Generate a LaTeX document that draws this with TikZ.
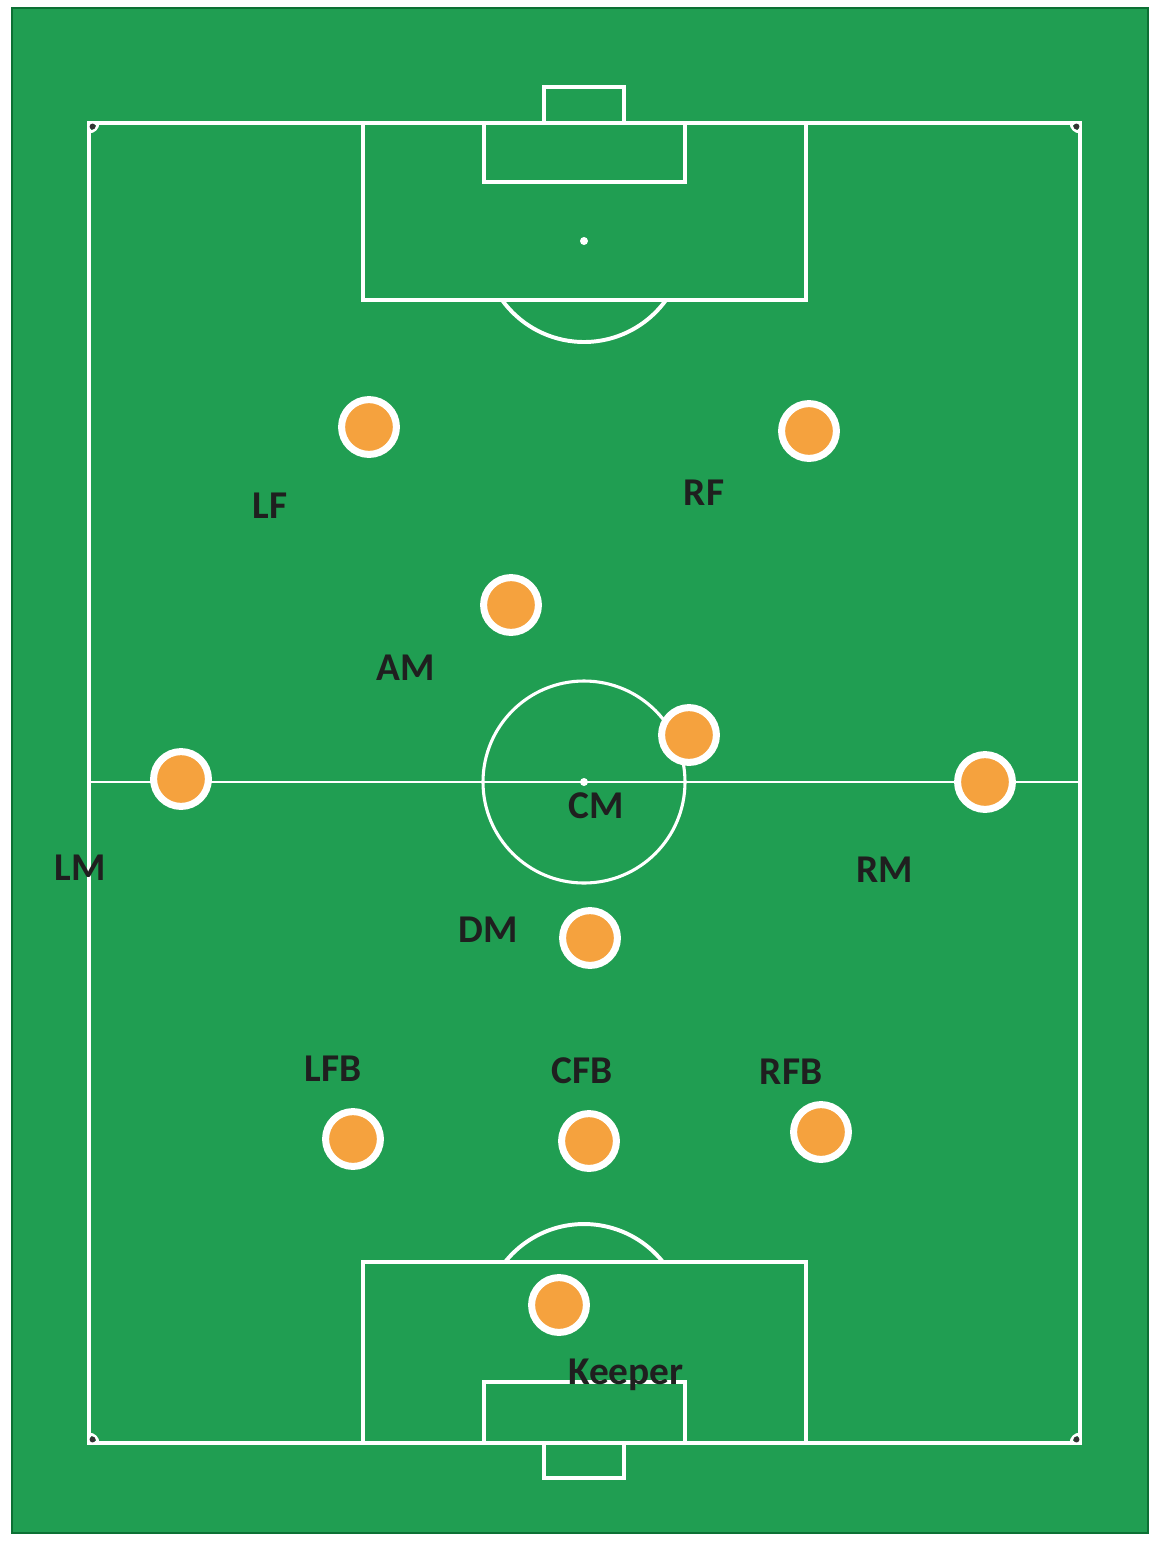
\documentclass[tikz,border=0pt]{standalone}
\usepackage{fontspec}
\setmainfont{Carlito}
\usetikzlibrary{shadows}
\definecolor{pitch}{RGB}{32,158,82}
\definecolor{pitchedge}{RGB}{12,112,52}
\definecolor{ballorange}{RGB}{245,162,62}
\definecolor{ballshade}{RGB}{168,118,40}
\begin{document}
\begin{tikzpicture}[x=0.025cm,y=-0.025cm,
  pline/.style={draw=white,line width=2.8pt},
  player/.style={circle,fill=ballorange,draw=white,line width=5pt,minimum size=39pt,inner sep=0pt,
    drop shadow={shadow xshift=1.6pt,shadow yshift=-1.6pt,fill=ballshade,opacity=0.85}},
  poslabel/.style={font=\fontsize{28}{30}\selectfont\bfseries,text=black!88,inner sep=0pt,anchor=base}]
\useasboundingbox (0,0) rectangle (1160,1541);
\fill[white] (0,0) rectangle (1160,1541);
% Pitch
\filldraw[fill=pitch,draw=pitchedge,line width=1pt] (12,8) rectangle (1148,1533);
\draw[pline] (89,123) rectangle (1080,1443);
\draw[pline,line width=1.8pt] (89,782) -- (1080,782);
\draw[pline,line width=2.2pt] (584,782) circle[radius=101];
\fill[white] (584,782) circle[radius=4];
% Top end
\draw[pline] (363,123) rectangle (806,300);
\draw[pline] (484,123) rectangle (685,182);
\draw[pline] (544,87) rectangle (624,123);
\fill[white] (584,241) circle[radius=4];
\draw[pline] (584,241) ++(35.7:101) arc[start angle=35.7,end angle=144.3,radius=101];
% Bottom end
\draw[pline] (363,1262) rectangle (806,1443);
\draw[pline] (484,1382) rectangle (685,1443);
\draw[pline] (544,1443) rectangle (624,1478);
\draw[pline] (584,1325) ++(218.6:101) arc[start angle=218.6,end angle=321.4,radius=101];
% Corner arcs
\foreach \cx/\cy/\a in {89/123/0,1080/123/90,1080/1443/180,89/1443/270}{
  \draw[pline,line width=2pt] (\cx,\cy) ++(\a:9) arc[start angle=\a,end angle=\a+90,radius=9];
  \fill[black!80] (\cx,\cy) ++(\a+45:5) circle[radius=3];
}
% Players and their positions
\foreach \name/\px/\py/\txt/\lx/\ly in {
  lf/369/427/LF/270/518, rf/809/431/RF/704/505, am/511/605/AM/406/680,
  cm/689/735/CM/596/818, lm/181/779/LM/80/880, rm/985/782/RM/885/882,
  dm/590/938/DM/488/942, lfb/353/1139/LFB/333/1081, cfb/589/1141/CFB/582/1083,
  rfb/821/1132/RFB/791/1084, keeper/559/1305/Keeper/626/1384}{
  \node[player] (\name) at (\px,\py) {};
  \node[poslabel] (\name-lbl) at (\lx,\ly) {\txt};
}
\end{tikzpicture}
\end{document}
